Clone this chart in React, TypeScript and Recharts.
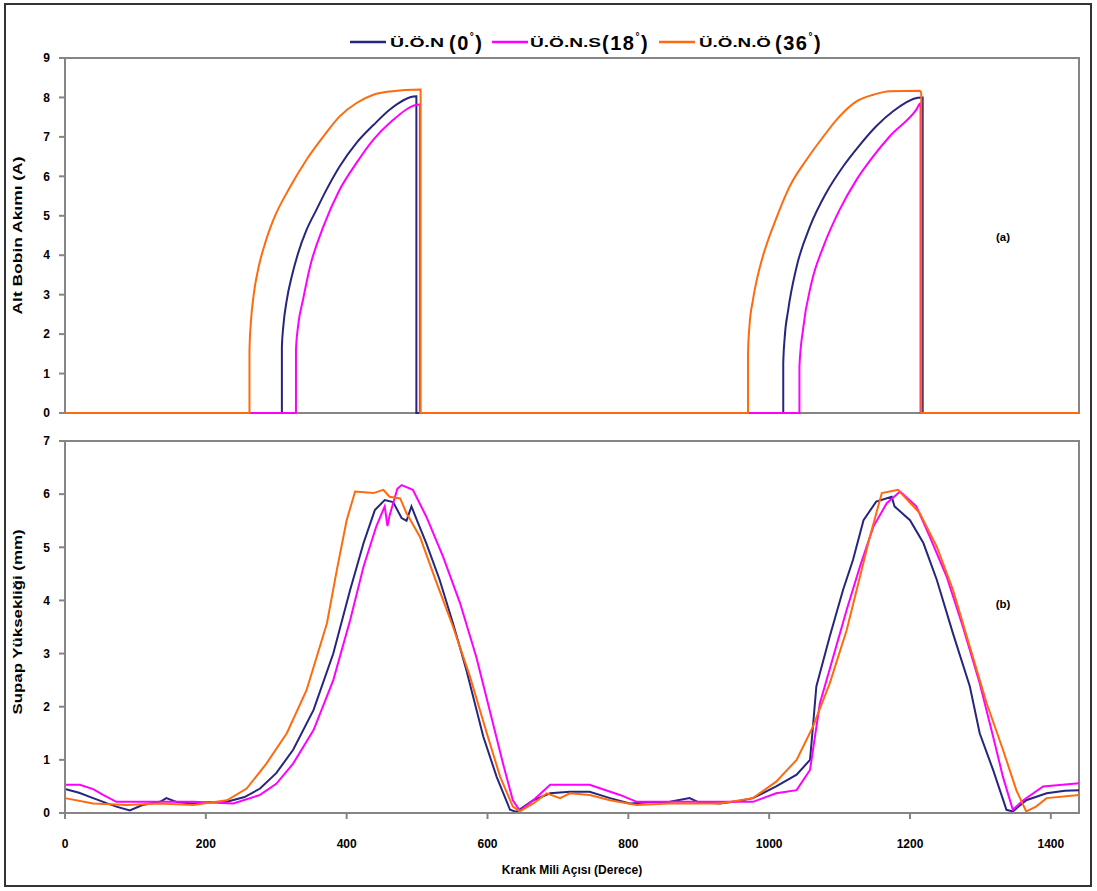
import React from 'react';
import { LineChart, Line, XAxis, YAxis, ReferenceArea } from 'recharts';

// krank mili açısı eksen işaretleri
const xTicks = [0, 200, 400, 600, 800, 1000, 1200, 1400];
const akimTicks = [0, 1, 2, 3, 4, 5, 6, 7, 8, 9];
const supapTicks = [0, 1, 2, 3, 4, 5, 6, 7];

const legendShort = ['Ü.Ö.N', 'Ü.Ö.N.S', 'Ü.Ö.N.Ö'];
const legendAngle = ['0', '18', '36'];
const seriesColors = ['#26267f', '#ff00ff', '#ff6a0d'];

// (a) alt bobin akımı [derece, A]
const akimUON: [number, number][] = [
  [0, 0], [308, 0], [308, 1.68], [310, 2.19], [315, 2.87], [322, 3.46], [331, 4.05], [343, 4.64],
  [357, 5.15], [371, 5.65], [390, 6.25], [414, 6.85], [438, 7.3], [461, 7.69], [499, 8.03], [499, 0],
  [1020, 0], [1020, 1.26], [1022, 1.9], [1027, 2.61], [1039, 3.71], [1058, 4.73], [1081, 5.58],
  [1105, 6.25], [1128, 6.78], [1152, 7.27], [1176, 7.65], [1211, 7.99], [1218, 8.0], [1218, 0], [1440, 0],
];
const akimUONS: [number, number][] = [
  [0, 0], [328, 0], [328, 1.6], [331, 2.2], [338, 2.87], [348, 3.71], [367, 4.73], [390, 5.66],
  [414, 6.34], [438, 6.93], [461, 7.35], [504, 7.82], [504, 0], [1043, 0], [1043, 1.18], [1048, 2.11],
  [1060, 3.29], [1077, 4.22], [1100, 5.15], [1124, 5.91], [1148, 6.51], [1171, 7.01], [1209, 7.69],
  [1215, 7.85], [1215, 0], [1440, 0],
];
const akimUONO: [number, number][] = [
  [0, 0], [262, 0], [262, 1.6], [264, 2.3], [268, 3.0], [275, 3.7], [285, 4.35], [296, 4.9],
  [320, 5.74], [343, 6.42], [367, 7.01], [390, 7.52], [414, 7.86], [438, 8.07], [461, 8.15], [505, 8.2],
  [505, 0], [970, 0], [970, 1.51], [972, 2.2], [977, 2.87], [984, 3.5], [991, 3.97], [1011, 4.98],
  [1029, 5.74], [1053, 6.42], [1077, 7.01], [1100, 7.52], [1124, 7.9], [1148, 8.07], [1171, 8.16],
  [1214, 8.17], [1216, 8.1], [1216, 0], [1440, 0],
];

// (b) supap yüksekliği [derece, mm]
const supapUON: [number, number][] = [
  [0, 0.45], [20, 0.38], [40, 0.28], [60, 0.18], [73, 0.12], [92, 0.05], [110, 0.15], [135, 0.21],
  [144, 0.28], [160, 0.2], [182, 0.18], [205, 0.2], [230, 0.21], [255, 0.3], [277, 0.46], [300, 0.75],
  [324, 1.19], [353, 1.94], [381, 3.0], [405, 4.2], [424, 5.08], [440, 5.7], [454, 5.89], [466, 5.85],
  [478, 5.55], [485, 5.5], [492, 5.77], [500, 5.5], [513, 5.08], [532, 4.39], [551, 3.57], [570, 2.69],
  [594, 1.44], [613, 0.68], [632, 0.06], [641, 0.02], [665, 0.24], [689, 0.37], [717, 0.4], [745, 0.4],
  [774, 0.28], [802, 0.18], [830, 0.2], [859, 0.21], [887, 0.28], [900, 0.2], [930, 0.18], [955, 0.22],
  [977, 0.28], [1010, 0.5], [1039, 0.72], [1058, 1.0], [1062, 1.6], [1067, 2.38], [1086, 3.32],
  [1105, 4.2], [1119, 4.76], [1134, 5.51], [1152, 5.86], [1174, 5.95], [1178, 5.77], [1200, 5.51],
  [1219, 5.08], [1238, 4.39], [1261, 3.38], [1285, 2.38], [1299, 1.5], [1318, 0.81], [1337, 0.06],
  [1346, 0.03], [1365, 0.24], [1394, 0.37], [1420, 0.42], [1440, 0.43],
];
const supapUONS: [number, number][] = [
  [0, 0.53], [21, 0.53], [40, 0.45], [54, 0.34], [73, 0.21], [135, 0.21], [182, 0.21], [239, 0.18],
  [277, 0.34], [300, 0.55], [324, 0.93], [353, 1.56], [381, 2.5], [405, 3.63], [424, 4.64], [442, 5.39],
  [454, 5.77], [458, 5.4], [461, 5.6], [466, 5.83], [472, 6.1], [478, 6.17], [494, 6.08], [513, 5.58],
  [537, 4.82], [561, 3.95], [584, 2.94], [603, 1.94], [622, 0.93], [636, 0.24], [646, 0.04], [665, 0.24],
  [689, 0.53], [717, 0.53], [745, 0.53], [788, 0.34], [812, 0.21], [859, 0.21], [930, 0.21], [977, 0.21],
  [1010, 0.37], [1039, 0.43], [1058, 0.81], [1072, 2.06], [1091, 2.94], [1110, 3.82], [1129, 4.64],
  [1148, 5.39], [1167, 5.83], [1186, 6.05], [1209, 5.77], [1228, 5.2], [1252, 4.45], [1275, 3.51],
  [1299, 2.44], [1318, 1.44], [1332, 0.68], [1346, 0.06], [1361, 0.24], [1389, 0.5], [1440, 0.56],
];
const supapUONO: [number, number][] = [
  [0, 0.28], [40, 0.18], [88, 0.15], [135, 0.18], [182, 0.15], [230, 0.24], [258, 0.46], [286, 0.93],
  [315, 1.5], [343, 2.31], [372, 3.57], [386, 4.57], [400, 5.51], [412, 6.05], [438, 6.02], [452, 6.08],
  [461, 5.95], [476, 5.92], [485, 5.64], [504, 5.2], [528, 4.32], [551, 3.51], [575, 2.57], [599, 1.5],
  [618, 0.68], [636, 0.12], [646, 0.03], [665, 0.18], [684, 0.37], [703, 0.28], [717, 0.37], [745, 0.34],
  [774, 0.24], [812, 0.15], [859, 0.18], [930, 0.18], [977, 0.28], [1010, 0.59], [1039, 1.0],
  [1062, 1.62], [1086, 2.44], [1110, 3.44], [1129, 4.45], [1143, 5.2], [1160, 6.02], [1183, 6.08],
  [1214, 5.64], [1238, 5.01], [1261, 4.2], [1285, 3.13], [1309, 2.06], [1332, 1.19], [1351, 0.43],
  [1365, 0.03], [1379, 0.12], [1394, 0.28], [1440, 0.34],
];

const font = '"Liberation Sans", Arial, sans-serif';
const tickStyle = { fill: '#000', fontSize: 12, fontWeight: 700, fontFamily: font };
const axisGray = '#858585';

const toPoints = (pairs: [number, number][]) => pairs.map(([aci, deger]) => ({ aci, deger }));

const akimSeries = [akimUON, akimUONS, akimUONO].map(toPoints);
const supapSeries = [supapUON, supapUONS, supapUONO].map(toPoints);

function YTitle({ viewBox, text, length, shift = 0 }: any) {
  const cy = viewBox.y + viewBox.height / 2 + shift;
  return (
    <text
      x={18}
      y={cy}
      transform={`rotate(-90, 18, ${cy})`}
      textAnchor="middle"
      dominantBaseline="central"
      fontFamily={font}
      fontSize={12.5}
      fontWeight={700}
      fill="#000"
      textLength={length}
      lengthAdjust="spacingAndGlyphs"
    >
      {text}
    </text>
  );
}

function XTitle({ viewBox }: any) {
  return (
    <text x={viewBox.x + viewBox.width / 2} y={viewBox.y + 61} textAnchor="middle"
      fontFamily={font} fontSize={12} fontWeight={700} fill="#000">
      Krank Mili Açısı (Derece)
    </text>
  );
}

function renderLines(series: { aci: number; deger: number }[][], curve: 'linear' | 'monotone') {
  return series.map((data, i) => (
    <Line
      key={legendShort[i]}
      data={data}
      dataKey="deger"
      name={`${legendShort[i]} (${legendAngle[i]}°)`}
      type={curve}
      stroke={seriesColors[i]}
      strokeWidth={2}
      dot={false}
      isAnimationActive={false}
    />
  ));
}

function Legend() {
  const lineX = [350, 492, 659];
  const smallX = [390, 530, 699];
  const smallW = [54, 71, 72];
  const bigX = [449, 602, 775];
  return (
    <g fontFamily={font} fontWeight={700} fill="#000">
      {legendShort.map((s, i) => (
        <g key={s}>
          <line x1={lineX[i]} x2={lineX[i] + 36} y1={42} y2={42} stroke={seriesColors[i]} strokeWidth={2.5} />
          <text x={smallX[i]} y={47} fontSize={12} textLength={smallW[i]} lengthAdjust="spacingAndGlyphs">{s}</text>
          <text x={bigX[i]} y={50} fontSize={20} letterSpacing={1.5}>
            ({legendAngle[i]}
            <tspan fontSize={10} dy={-10}>°</tspan>
            <tspan dy={10}>)</tspan>
          </text>
        </g>
      ))}
    </g>
  );
}

export default function App() {
  return (
    <div style={{ position: 'absolute', left: 0, top: 0, width: 1097, height: 891, background: '#fff' }}>
      <div style={{
        position: 'absolute', left: 4, top: 3, width: 1088, height: 884,
        border: '2px solid #333', boxSizing: 'border-box',
      }} />
      <div style={{ position: 'absolute', left: 0, top: 0 }}>
        <LineChart width={1097} height={420} margin={{ top: 58, right: 18, bottom: 7, left: 0 }}>
          <XAxis type="number" dataKey="aci" domain={[0, 1440]} hide />
          <YAxis
            type="number"
            domain={[0, 9]}
            ticks={akimTicks}
            interval={0}
            width={65}
            tick={tickStyle}
            tickSize={6}
            tickMargin={9}
            stroke={axisGray}
            strokeWidth={2}
            label={(p: any) => <YTitle {...p} text="Alt Bobin Akımı (A)" length={158} />}
          />
          <ReferenceArea x1={0} x2={1440} y1={0} y2={9} fill="none" stroke={axisGray} strokeWidth={2} />
          {renderLines(akimSeries, 'monotone')}
        </LineChart>
      </div>
      <div style={{ position: 'absolute', left: 0, top: 430 }}>
        <LineChart width={1097} height={461} margin={{ top: 11, right: 18, bottom: 0, left: 0 }}>
          <XAxis
            type="number"
            dataKey="aci"
            domain={[0, 1440]}
            ticks={xTicks}
            interval={0}
            height={78}
            tick={tickStyle}
            tickSize={6}
            tickMargin={20}
            stroke={axisGray}
            strokeWidth={2}
            label={(p: any) => <XTitle {...p} />}
          />
          <YAxis
            type="number"
            domain={[0, 7]}
            ticks={supapTicks}
            interval={0}
            width={65}
            tick={tickStyle}
            tickSize={6}
            tickMargin={9}
            stroke={axisGray}
            strokeWidth={2}
            label={(p: any) => <YTitle {...p} text="Supap Yüksekliği (mm)" length={185} shift={-5} />}
          />
          <ReferenceArea x1={0} x2={1440} y1={0} y2={7} fill="none" stroke={axisGray} strokeWidth={2} />
          {renderLines(supapSeries, 'linear')}
        </LineChart>
      </div>
      <svg width={1097} height={891} style={{ position: 'absolute', left: 0, top: 0, pointerEvents: 'none' }}>
        <Legend />
        <text x={1003} y={241} textAnchor="middle" fontFamily={font} fontSize={11.5} fontWeight={700} fill="#000">(a)</text>
        <text x={1003} y={608} textAnchor="middle" fontFamily={font} fontSize={11.5} fontWeight={700} fill="#000">(b)</text>
      </svg>
    </div>
  );
}
